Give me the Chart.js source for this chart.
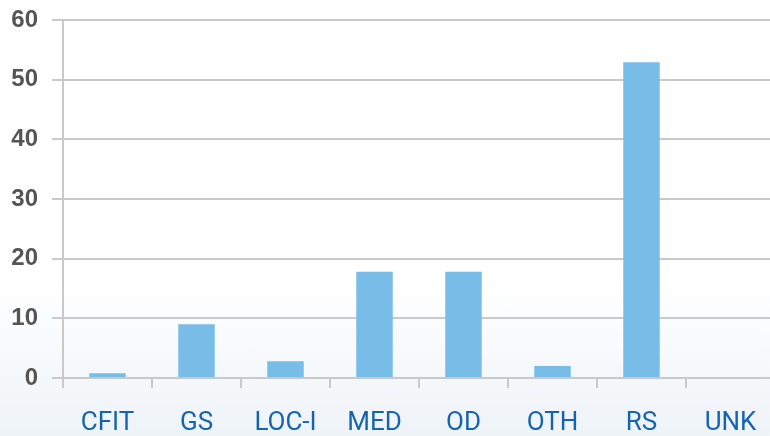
<!DOCTYPE html>
<html>
<head>
<meta charset="utf-8">
<script src="https://cdn.jsdelivr.net/npm/chart.js@4"></script>
<style>
  html, body { margin: 0; padding: 0; overflow: hidden; }
  body { width: 770px; height: 436px; background: linear-gradient(to bottom, #ffffff 0%, #ffffff 65%, #eef3f8 100%); }
  #wrap { width: 775px; height: 436px; position: relative; }
</style>
</head>
<body>
<div id="wrap"><canvas id="myChart"></canvas></div>
<script>
var categories = ["CFIT", "GS", "LOC-I", "MED", "OD", "OTH", "RS", "UNK"];
var values = [0.8, 9, 2.8, 17.8, 17.8, 2, 52.9, 0];
var yTicks = [0, 10, 20, 30, 40, 50, 60];

var gridColor = "#c9c9c9";
var ctx = document.getElementById("myChart").getContext("2d");

var myChart = new Chart(ctx, {
  type: "bar",
  data: {
    labels: categories,
    datasets: [{
      data: values,
      backgroundColor: "#78bde8",
      borderWidth: 0,
      barPercentage: 0.41,
      categoryPercentage: 1
    }]
  },
  options: {
    responsive: true,
    maintainAspectRatio: false,
    animation: false,
    layout: { padding: { top: 20, right: 0, left: 0, bottom: 0 } },
    plugins: { legend: { display: false }, tooltip: { enabled: false } },
    scales: {
      x: {
        grid: { display: true, drawOnChartArea: false, color: gridColor, lineWidth: 2, tickLength: 10 },
        border: { display: true, color: gridColor, width: 2 },
        ticks: { color: "#1565ae", padding: 20, font: { family: "Roboto", size: 26 } },
        afterFit: function (scale) { scale.height = 58; scale.paddingLeft = 0; scale.paddingRight = 0; }
      },
      y: {
        min: 0, max: 60,
        afterBuildTicks: function (scale) { scale.ticks = yTicks.map(function (v) { return { value: v }; }); },
        grid: { color: gridColor, lineWidth: 2, tickLength: 11 },
        border: { display: true, color: gridColor, width: 2 },
        ticks: { color: "#555555", padding: 14, font: { family: "Liberation Sans", size: 24, weight: "bold" } },
        afterFit: function (scale) { scale.width = 63; scale.paddingTop = 0; scale.paddingBottom = 0; }
      }
    }
  }
});
</script>
</body>
</html>
